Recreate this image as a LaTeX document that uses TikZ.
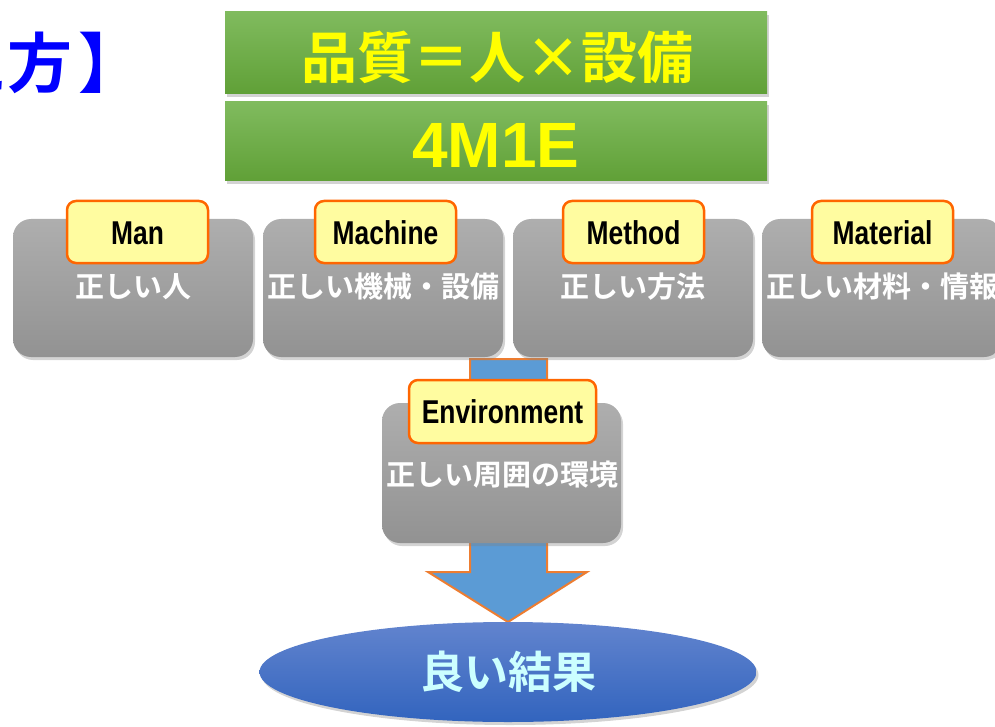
\documentclass[tikz,border=0pt]{standalone}
\usepackage{fontspec}
\usetikzlibrary{shapes.geometric,shadows}
\newfontfamily\jpb{Noto Sans CJK JP Bold}
\newfontfamily\lab{Liberation Sans Bold}[FakeStretch=0.8]
\newfontfamily\arb{Liberation Sans Bold}
\definecolor{gtop}{RGB}{128,187,94}
\definecolor{gbot}{RGB}{96,160,55}
\definecolor{grtop}{RGB}{174,174,174}
\definecolor{grbot}{RGB}{146,146,146}
\definecolor{tagfill}{RGB}{255,252,160}
\definecolor{tagline}{RGB}{255,102,0}
\definecolor{arrfill}{RGB}{91,155,213}
\definecolor{arrline}{RGB}{237,125,49}
\definecolor{eltop}{RGB}{98,132,206}
\definecolor{elbot}{RGB}{50,100,190}
\definecolor{eltext}{RGB}{204,255,255}
\definecolor{headblue}{RGB}{0,0,255}
\definecolor{ytext}{RGB}{255,255,0}
\begin{document}
\begin{tikzpicture}[x=1pt,y=-1pt,
  shade/.style={drop shadow={opacity=0.35,shadow xshift=2pt,shadow yshift=-3pt}},
  greenbox/.style={rectangle,minimum width=542pt,inner sep=0pt,top color=gtop,bottom color=gbot,draw=none,shade},
  graybox/.style={rectangle,rounded corners=18pt,minimum width=240pt,minimum height=138pt,inner sep=0pt,top color=grtop,bottom color=grbot,draw=none,shade},
  tagbox/.style={rectangle,rounded corners=9pt,minimum width=141pt,minimum height=62pt,inner sep=0pt,fill=tagfill,draw=tagline,line width=2.5pt},
  tagtext/.style={anchor=base,inner sep=0pt,font=\lab\fontsize{33}{36}\selectfont,text=black},
  boxtext/.style={inner sep=0pt,font=\jpb\fontsize{29}{32}\selectfont,text=white},
  arrowshape/.style={fill=arrfill,draw=arrline,line width=2pt,line join=miter}
]
\useasboundingbox (0,0) rectangle (995,727);
\clip (0,0) rectangle (995,727);

% heading fragment
\node[anchor=base west,inner sep=0pt,font=\jpb\fontsize{65}{65}\selectfont,text=headblue] (head) at (-122.5,88) {考え方\kern6pt】};

% green boxes
\node[greenbox,minimum height=82pt] (g1) at (496,53) {};
\node[inner sep=0pt,font=\jpb\fontsize{56}{60}\selectfont,text=ytext] (title) at (497,57) {品質＝人×設備};
\node[greenbox,minimum height=79pt] (g2) at (496,141.5) {};
\node[anchor=base,inner sep=0pt,font=\arb\fontsize{64}{66}\selectfont,text=ytext] (mme) at (496,168) {4M1E};

% arrow (behind boxes)
\draw[arrowshape] (470,359) -- (547,359) -- (547,572) -- (587,572) -- (508,622) -- (428,572) -- (470,572) -- cycle;

% top row gray boxes
\node[graybox] (b1) at (133,288) {};
\node[graybox] (b2) at (383,288) {};
\node[graybox] (b3) at (633,288) {};
\node[graybox] (b4) at (882,288) {};

\node[tagbox] (l1) at (137.5,232) {};
\node[tagbox] (l2) at (385.5,232) {};
\node[tagbox] (l3) at (633.5,232) {};
\node[tagbox] (l4) at (882.5,232) {};
\node[tagtext] (l1t) at (137.5,245) {Man};
\node[tagtext] (l2t) at (385.5,244) {Machine};
\node[tagtext] (l3t) at (633.5,244) {Method};
\node[tagtext] (l4t) at (882.5,244) {Material};

\node[boxtext] (t1) at (133,287) {正しい人};
\node[boxtext] (t2) at (383,287) {正しい機械・設備};
\node[boxtext] (t3) at (633,287) {正しい方法};
\node[boxtext] (t4) at (882,287) {正しい材料・情報};

% environment
\node[graybox,minimum width=239pt,minimum height=140pt] (b5) at (501.5,473) {};
\node[tagbox,minimum width=187pt,minimum height=63pt] (l5) at (502.5,411.5) {};
\node[tagtext] (l5t) at (502.5,423) {Environment};
\node[boxtext] (t5) at (502,475) {正しい周囲の環境};

% result
\node[ellipse,minimum width=497pt,minimum height=100pt,inner sep=0pt,top color=eltop,bottom color=elbot,draw=none,shade,
      font=\jpb\fontsize{44}{48}\selectfont,text=eltext] (res) at (508,672) {良い結果};
\end{tikzpicture}
\end{document}
